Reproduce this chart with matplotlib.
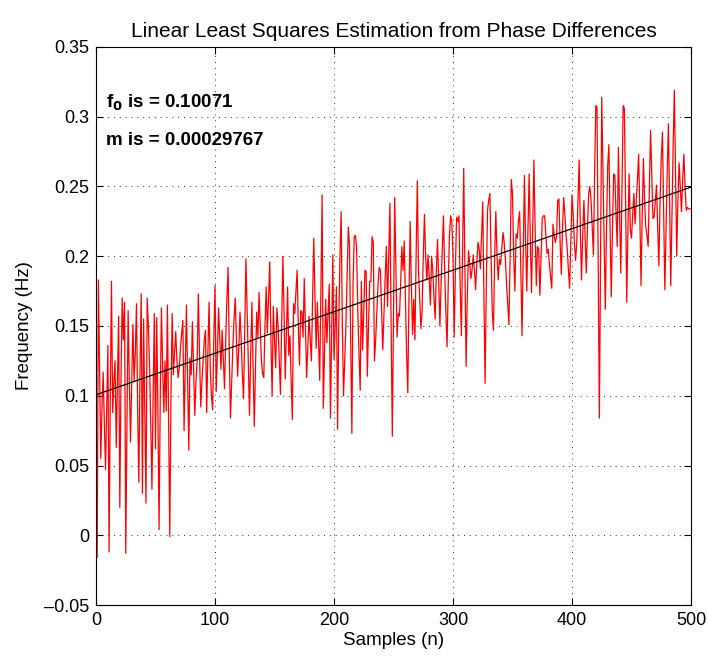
import numpy as np
import matplotlib.pyplot as plt

# Data: frequency estimate per sample
freq = [
    0.100, -0.016, 0.183, 0.120, 0.055, 0.090, 0.117, 0.080, 0.047, 0.090,
    0.136, -0.012, 0.100, 0.182, 0.088, 0.110, 0.125, 0.063, 0.110, 0.157,
    0.020, 0.110, 0.170, 0.140, 0.167, -0.013, 0.080, 0.161, 0.110, 0.067,
    0.110, 0.151, 0.111, 0.130, 0.166, 0.090, 0.038, 0.120, 0.173, 0.030,
    0.155, 0.090, 0.023, 0.170, 0.150, 0.122, 0.080, 0.033, 0.100, 0.159,
    0.062, 0.156, 0.090, 0.004, 0.100, 0.163, 0.120, 0.088, 0.125, 0.089,
    0.165, 0.080, -0.001, 0.100, 0.159, 0.115, 0.130, 0.146, 0.125, 0.113,
    0.120, 0.135, 0.145, 0.154, 0.075, 0.120, 0.165, 0.110, 0.061, 0.127,
    0.115, 0.153, 0.120, 0.086, 0.110, 0.125, 0.173, 0.130, 0.092, 0.110,
    0.125, 0.140, 0.147, 0.088, 0.130, 0.167, 0.120, 0.100, 0.090, 0.140,
    0.179, 0.103, 0.130, 0.163, 0.140, 0.119, 0.147, 0.125, 0.105, 0.140,
    0.170, 0.192, 0.130, 0.084, 0.110, 0.135, 0.155, 0.170, 0.140, 0.114,
    0.135, 0.160, 0.140, 0.115, 0.098, 0.150, 0.198, 0.160, 0.120, 0.086,
    0.130, 0.167, 0.120, 0.078, 0.120, 0.160, 0.142, 0.174, 0.150, 0.125,
    0.116, 0.113, 0.150, 0.178, 0.145, 0.170, 0.196, 0.140, 0.100, 0.164,
    0.140, 0.120, 0.163, 0.150, 0.125, 0.101, 0.150, 0.200, 0.160, 0.112,
    0.145, 0.178, 0.129, 0.143, 0.110, 0.083, 0.166, 0.159, 0.175, 0.190,
    0.150, 0.122, 0.161, 0.160, 0.142, 0.184, 0.150, 0.113, 0.135, 0.157,
    0.140, 0.125, 0.170, 0.213, 0.170, 0.134, 0.167, 0.140, 0.111, 0.180,
    0.244, 0.091, 0.130, 0.169, 0.138, 0.160, 0.180, 0.084, 0.140, 0.201,
    0.126, 0.150, 0.178, 0.076, 0.150, 0.200, 0.232, 0.150, 0.100, 0.125,
    0.150, 0.185, 0.221, 0.208, 0.140, 0.073, 0.180, 0.214, 0.215, 0.206,
    0.160, 0.130, 0.104, 0.182, 0.133, 0.160, 0.190, 0.189, 0.114, 0.150,
    0.182, 0.182, 0.214, 0.210, 0.125, 0.140, 0.160, 0.180, 0.192, 0.190,
    0.160, 0.133, 0.160, 0.185, 0.207, 0.164, 0.200, 0.238, 0.150, 0.071,
    0.160, 0.242, 0.190, 0.142, 0.159, 0.157, 0.180, 0.207, 0.190, 0.211,
    0.170, 0.130, 0.102, 0.170, 0.225, 0.180, 0.144, 0.169, 0.140, 0.200,
    0.254, 0.190, 0.170, 0.148, 0.160, 0.200, 0.230, 0.200, 0.183, 0.201,
    0.185, 0.165, 0.200, 0.190, 0.170, 0.155, 0.190, 0.212, 0.180, 0.150,
    0.180, 0.205, 0.229, 0.190, 0.160, 0.135, 0.180, 0.215, 0.229, 0.225,
    0.200, 0.142, 0.190, 0.228, 0.225, 0.229, 0.180, 0.143, 0.200, 0.263,
    0.190, 0.121, 0.170, 0.204, 0.195, 0.184, 0.190, 0.201, 0.190, 0.176,
    0.195, 0.210, 0.205, 0.191, 0.215, 0.239, 0.170, 0.109, 0.180, 0.233,
    0.240, 0.245, 0.200, 0.160, 0.147, 0.200, 0.232, 0.200, 0.183, 0.198,
    0.194, 0.205, 0.217, 0.210, 0.198, 0.180, 0.165, 0.151, 0.200, 0.255,
    0.245, 0.200, 0.175, 0.216, 0.213, 0.225, 0.232, 0.190, 0.143, 0.200,
    0.258, 0.210, 0.175, 0.220, 0.259, 0.210, 0.174, 0.220, 0.269, 0.220,
    0.179, 0.207, 0.205, 0.172, 0.200, 0.227, 0.229, 0.229, 0.215, 0.202,
    0.205, 0.195, 0.185, 0.177, 0.223, 0.215, 0.210, 0.214, 0.240, 0.241,
    0.210, 0.187, 0.220, 0.242, 0.230, 0.215, 0.205, 0.190, 0.177, 0.210,
    0.244, 0.230, 0.210, 0.197, 0.210, 0.240, 0.269, 0.220, 0.183, 0.215,
    0.240, 0.215, 0.188, 0.220, 0.245, 0.250, 0.240, 0.220, 0.201, 0.260,
    0.308, 0.307, 0.200, 0.084, 0.200, 0.314, 0.260, 0.210, 0.162, 0.220,
    0.265, 0.280, 0.220, 0.171, 0.220, 0.259, 0.258, 0.230, 0.207, 0.278,
    0.230, 0.188, 0.250, 0.308, 0.306, 0.240, 0.167, 0.220, 0.259, 0.219,
    0.213, 0.230, 0.245, 0.223, 0.240, 0.255, 0.273, 0.230, 0.179, 0.230,
    0.270, 0.240, 0.221, 0.215, 0.207, 0.250, 0.290, 0.260, 0.227, 0.228,
    0.240, 0.251, 0.220, 0.193, 0.240, 0.270, 0.289, 0.230, 0.176, 0.220,
    0.260, 0.295, 0.240, 0.179, 0.230, 0.280, 0.319, 0.260, 0.200, 0.240,
    0.267, 0.250, 0.232, 0.255, 0.273, 0.250, 0.233, 0.235, 0.234, 0.234,
    0.234,
]

# Least squares fit parameters shown on the chart
f0 = 0.10071
m = 0.00029767

# Axis ticks
xticks = [0, 100, 200, 300, 400, 500]
yticks = [-0.05, 0, 0.05, 0.1, 0.15, 0.2, 0.25, 0.3, 0.35]

samples = np.arange(len(freq))
fit = f0 + m * samples

plt.rcParams['font.family'] = ['Liberation Sans', 'DejaVu Sans']

fig = plt.figure(figsize=(7.08, 6.56), dpi=100)
ax = fig.add_axes([0.1356, 0.0777, 0.8404, 0.8507])

ax.plot(samples, freq, color='red', linewidth=0.9)
ax.plot(samples, fit, color='black', linewidth=0.9)

# Labels and title
ax.set_title("Linear Least Squares Estimation from Phase Differences",
             fontsize=15, pad=7)
ax.set_xlabel("Samples (n)", fontsize=13.5, labelpad=2)
ax.set_ylabel("Frequency (Hz)", fontsize=13.5, labelpad=8)

ax.text(8, 0.310, r"f$_\mathbf{0}$ is = %.5f" % f0, fontsize=13.5,
        fontweight='bold', va='center')
ax.text(8, 0.283, "m is = %.8f" % m, fontsize=13.5,
        fontweight='bold', va='center')

# Axes limits and ticks (MATLAB look)
ax.set_xlim(0, 500)
ax.set_ylim(-0.05, 0.35)
ax.set_xticks(xticks)
ax.set_yticks(yticks)
ax.set_yticklabels([("%g" % v).replace("-", "\u2013") for v in yticks])
ax.tick_params(direction='in', top=True, right=True, labelsize=13, length=5,
               pad=5)

# Grid
ax.grid(True, linestyle=(0, (1, 5)), color='black', linewidth=0.7, alpha=0.8)

plt.savefig("out.png", dpi=100)
